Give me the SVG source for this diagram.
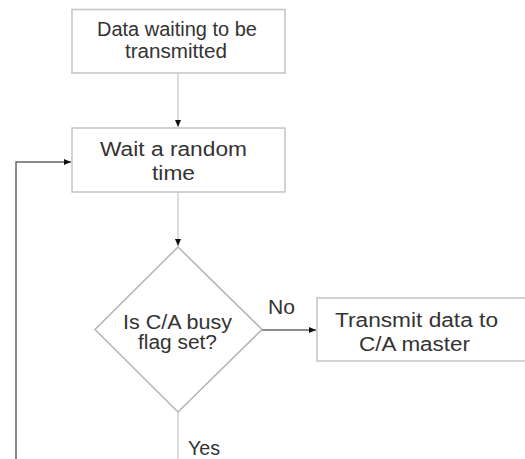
<svg xmlns="http://www.w3.org/2000/svg" width="525" height="459" viewBox="0 0 525 459">
<style>
.box{fill:#fff;stroke:#c4c4c4;stroke-width:1.5}
.dia{fill:#fff;stroke:#b4b4b4;stroke-width:1.5}
.t{font-family:"Liberation Sans",Arial,sans-serif;font-size:20px;fill:#333;text-anchor:middle}
.c{fill:none;stroke:#d0d0d0;stroke-width:1.5}
.cd{fill:none;stroke:#666;stroke-width:1.5}
</style>
<defs>
<marker id="ah" markerWidth="8" markerHeight="8" refX="7" refY="4" orient="auto" markerUnits="userSpaceOnUse">
<path d="M0,1 L7,4 L0,7 Z" fill="#111"/>
</marker>
</defs>
<g id="connectors">
<line class="c" x1="178" y1="73" x2="178" y2="127" marker-end="url(#ah)"/>
<line class="c" x1="178" y1="192" x2="178" y2="246" marker-end="url(#ah)"/>
<line class="cd" x1="262" y1="330" x2="316" y2="330" marker-end="url(#ah)"/>
<line class="c" x1="178" y1="412" x2="178" y2="459"/>
<polyline class="cd" points="16,459 16,162 71,162" marker-end="url(#ah)"/>
</g>
<g id="n1">
<rect class="box" x="72" y="9.5" width="213" height="63.5"/>
<text class="t" x="177" y="36" textLength="160" lengthAdjust="spacingAndGlyphs">Data waiting to be</text>
<text class="t" x="176" y="58" textLength="102" lengthAdjust="spacingAndGlyphs">transmitted</text>
</g>
<g id="n2">
<rect class="box" x="72" y="128" width="213" height="64"/>
<text class="t" x="173.5" y="156" textLength="147" lengthAdjust="spacingAndGlyphs">Wait a random</text>
<text class="t" x="173.5" y="180" textLength="43" lengthAdjust="spacingAndGlyphs">time</text>
</g>
<g id="n3">
<polygon class="dia" points="178,247 262,329.5 178,412 95,329.5"/>
<text class="t" x="177.5" y="329" textLength="109" lengthAdjust="spacingAndGlyphs">Is C/A busy</text>
<text class="t" x="177.5" y="349" textLength="79" lengthAdjust="spacingAndGlyphs">flag set?</text>
</g>
<g id="n4">
<rect class="box" x="317" y="298" width="215" height="63"/>
<text class="t" x="416.5" y="327" textLength="163" lengthAdjust="spacingAndGlyphs">Transmit data to</text>
<text class="t" x="414.5" y="351" textLength="111" lengthAdjust="spacingAndGlyphs">C/A master</text>
</g>
<text class="t" x="281.5" y="314" textLength="27" lengthAdjust="spacingAndGlyphs">No</text>
<text class="t" x="204" y="455" textLength="32" lengthAdjust="spacingAndGlyphs">Yes</text>
</svg>
